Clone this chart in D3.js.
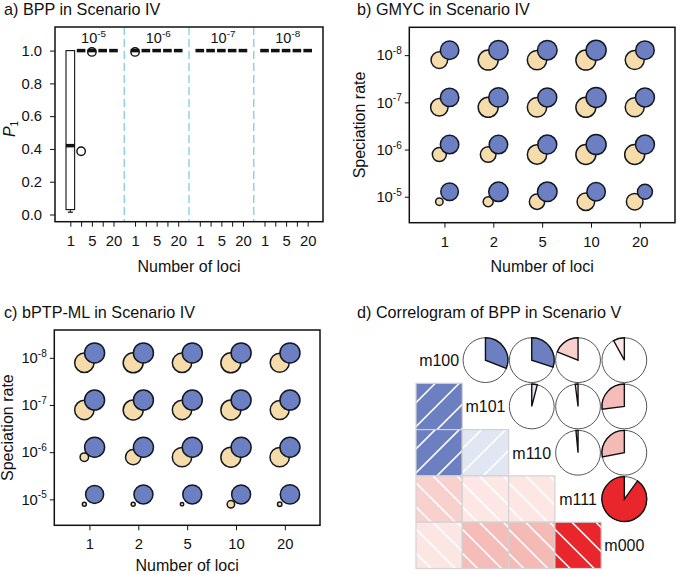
<!DOCTYPE html>
<html><head><meta charset="utf-8">
<script src="https://cdn.jsdelivr.net/npm/d3@7/dist/d3.min.js"></script>
<style>
body{margin:0;background:#fff}
text{font-family:"Liberation Sans",Arial,Helvetica,sans-serif;fill:#111}
</style>
</head><body>
<svg id="c" width="677" height="574"></svg>
<script>
// ---------------- DATA ----------------
const lociLabels = ["1", "2", "5", "10", "20"];
const groupExponents = ["-5", "-6", "-7", "-8"];          // panel a groups (left to right)
const rateExponents = ["-8", "-7", "-6", "-5"];           // panels b,c rows (top to bottom)
const yTicksA = [0, 0.2, 0.4, 0.6, 0.8, 1.0];

// Panel a: BPP boxplot statistics, 4 groups x 5 loci (20 boxes, in order)
const bppWhiskerLow  = [0.014,1,1,1,1, 1,1,1,1,1, 1,1,1,1,1, 1,1,1,1,1];
const bppQ1          = [0.03, 1,1,1,1, 1,1,1,1,1, 1,1,1,1,1, 1,1,1,1,1];
const bppMedian      = [0.42, 1,1,1,1, 1,1,1,1,1, 1,1,1,1,1, 1,1,1,1,1];
const bppQ3          = [1,    1,1,1,1, 1,1,1,1,1, 1,1,1,1,1, 1,1,1,1,1];
const bppWhiskerHigh = [1,    1,1,1,1, 1,1,1,1,1, 1,1,1,1,1, 1,1,1,1,1];
const bppOutlierBox  = [1, 2, 5];          // box index (0-based)
const bppOutlierVal  = [0.386, 0.992, 0.992];

// Panel b: GMYC (rows: 1e-8, 1e-7, 1e-6, 1e-5; cols: loci)
const gmycBeige = [
  [0.69, 1.00, 0.94, 1.00, 0.90],
  [0.76, 1.00, 0.94, 1.00, 0.90],
  [0.49, 0.61, 0.94, 1.00, 1.00],
  [0.14, 0.25, 0.59, 0.77, 0.69]];
const gmycBlue = [
  [0.85, 0.94, 0.96, 1.00, 0.86],
  [0.85, 0.94, 0.90, 1.00, 0.90],
  [0.85, 0.86, 0.90, 1.00, 0.90],
  [0.77, 0.94, 0.96, 0.85, 0.56]];

// Panel c: bPTP-ML
const bptpBeige = [
  [0.94, 1.00, 0.94, 1.00, 0.90],
  [0.94, 1.00, 0.94, 1.00, 0.90],
  [0.18, 0.59, 0.94, 1.00, 0.94],
  [0.04, 0.04, 0.03, 0.14, 0.05]];
const bptpBlue = [
  [1.00, 1.00, 1.00, 1.00, 1.00],
  [1.00, 1.00, 1.00, 1.00, 1.00],
  [1.00, 1.00, 1.00, 1.00, 1.00],
  [0.81, 0.90, 0.90, 0.90, 0.94]];

// Panel d: correlogram
const corrVars = ["m100", "m101", "m110", "m111", "m000"];
const corrMatrix = [
  [ 1.00,  0.31,  0.30,  -0.19, -0.08],
  [ 0.31,  1.00,  0.04,  -0.02, -0.27],
  [ 0.30,  0.04,  1.00,  -0.015,-0.28],
  [-0.19, -0.02, -0.015,  1.00, -0.90],
  [-0.08, -0.27, -0.28,  -0.90,  1.00]];

// ---------------- DRAW ----------------
const svg = d3.select("#c");
svg.append("rect").attr("width", 677).attr("height", 574).attr("fill", "#fff");
const TITLEF = 16.2, FONT = 16, TICKF = 14.8;
const BEIGE = "#f6dcaa", BLUE = "#6b7fc2", CSTROKE = "#141820";

function powerText(sel, exp, size) {
  sel.text(null);
  sel.append("tspan").text("10");
  sel.append("tspan").attr("font-size", size * 0.68).attr("dy", -size * 0.42).text(exp);
}
function title(x, y, t) {
  svg.append("text").attr("x", x).attr("y", y).attr("font-size", TITLEF).text(t);
}

// ===== Panel a =====
(function () {
  const L = 55, R = 323, T = 27, B = 221.7;
  const x = d3.scaleLinear().domain([-0.42, 24.42]).range([L, R]);
  const y = d3.scaleLinear().domain([-0.044, 1.144]).range([B, T]);
  const pos = d3.range(20).map(k => Math.floor(k / 5) * 6 + (k % 5) + 1);
  const g = svg.append("g");
  title(4, 15, "a) BPP in Scenario IV");

  [6, 12, 18].forEach(p => {
    g.append("line").attr("x1", x(p)).attr("x2", x(p)).attr("y1", T).attr("y2", B)
      .attr("stroke", "#8ccfe8").attr("stroke-width", 1.4).attr("stroke-dasharray", "8,4");
  });
  groupExponents.forEach((e, gi) => {
    g.append("text").attr("x", x(gi * 6 + 3.15)).attr("y", 43.3).attr("text-anchor", "middle")
      .attr("font-size", 14.5).call(s => powerText(s, e, 14.5));
  });
  const bw = x(0.8) - x(0);
  pos.forEach((p, k) => {
    const cx = x(p);
    if (bppWhiskerLow[k] < bppQ1[k]) {
      g.append("line").attr("x1", cx).attr("x2", cx).attr("y1", y(bppQ1[k])).attr("y2", y(bppWhiskerLow[k]))
        .attr("stroke", "#111").attr("stroke-width", 1);
      g.append("line").attr("x1", cx - bw * 0.3).attr("x2", cx + bw * 0.3)
        .attr("y1", y(bppWhiskerLow[k])).attr("y2", y(bppWhiskerLow[k])).attr("stroke", "#111").attr("stroke-width", 1.2);
    }
    if (bppWhiskerHigh[k] > bppQ3[k]) {
      g.append("line").attr("x1", cx).attr("x2", cx).attr("y1", y(bppQ3[k])).attr("y2", y(bppWhiskerHigh[k]))
        .attr("stroke", "#111").attr("stroke-width", 1);
    }
    if (bppQ3[k] > bppQ1[k]) {
      g.append("rect").attr("x", cx - bw / 2).attr("width", bw).attr("y", y(bppQ3[k]))
        .attr("height", y(bppQ1[k]) - y(bppQ3[k])).attr("fill", "#fff").attr("stroke", "#111").attr("stroke-width", 1.1);
    }
    g.append("line").attr("x1", cx - bw / 2).attr("x2", cx + bw / 2).attr("y1", y(bppMedian[k])).attr("y2", y(bppMedian[k]))
      .attr("stroke", "#111").attr("stroke-width", 3.5);
  });
  bppOutlierBox.forEach((k, i) => {
    g.append("circle").attr("cx", x(pos[k])).attr("cy", y(bppOutlierVal[i])).attr("r", 4.2)
      .attr("fill", "none").attr("stroke", "#111").attr("stroke-width", 1.4);
  });
  const ay = g.append("g").attr("transform", `translate(${L},0)`)
    .call(d3.axisLeft(y).tickValues(yTicksA).tickFormat(d3.format(".1f")).tickSize(5).tickPadding(8));
  const ax = g.append("g").attr("transform", `translate(0,${B})`)
    .call(d3.axisBottom(x).tickValues(pos).tickFormat((d, i) => (i % 5) % 2 === 0 ? lociLabels[i % 5] : "").tickSize(5).tickPadding(9));
  [ay, ax].forEach(a => {
    a.select(".domain").remove();
    a.selectAll(".tick line").attr("stroke", "#111");
    a.selectAll(".tick text").attr("font-size", TICKF).attr("font-family", null).attr("fill", "#111");
  });
  g.append("rect").attr("x", L).attr("y", T).attr("width", R - L).attr("height", B - T)
    .attr("fill", "none").attr("stroke", "#111").attr("stroke-width", 1.5);
  g.append("text").attr("x", (L + R) / 2).attr("y", 272).attr("text-anchor", "middle").attr("font-size", FONT).text("Number of loci");
  const pl = g.append("text").attr("transform", "translate(15,129) rotate(-90)").attr("text-anchor", "middle").attr("font-size", FONT);
  pl.append("tspan").attr("font-style", "italic").text("P");
  pl.append("tspan").attr("font-size", 10).attr("dy", 3).text("1");
})();

// ===== Panels b, c =====
function bubblePanel(L, R, T, B, beige, blue, xTitleY, yTitleX) {
  const x = d3.scaleLinear().domain([0.28, 5.72]).range([L, R]);
  const y = d3.scaleLinear().domain([0.45, 4.59]).range([B, T]);
  const r = d3.scaleSqrt().domain([0, 1]).range([0, 10]);
  const g = svg.append("g");
  const off = 0.105;
  const cellsBeige = [], cellsBlue = [];
  rateExponents.forEach((e, ri) => lociLabels.forEach((l, ci) => {
    cellsBeige.push({ c: ci + 1, row: 4 - ri, v: beige[ri][ci] });
    cellsBlue.push({ c: ci + 1, row: 4 - ri, v: blue[ri][ci] });
  }));
  g.selectAll(".beige").data(cellsBeige).enter().append("circle")
    .attr("cx", d => x(d.c - off)).attr("cy", d => y(d.row - off)).attr("r", d => r(d.v))
    .attr("fill", BEIGE).attr("stroke", CSTROKE).attr("stroke-width", 1.5);
  g.selectAll(".blue").data(cellsBlue).enter().append("circle")
    .attr("cx", d => x(d.c + off)).attr("cy", d => y(d.row + off)).attr("r", d => r(d.v))
    .attr("fill", BLUE).attr("stroke", CSTROKE).attr("stroke-width", 1.5);

  const ax = g.append("g").attr("transform", `translate(0,${B})`)
    .call(d3.axisBottom(x).tickValues([1, 2, 3, 4, 5]).tickFormat((d, i) => lociLabels[i]).tickSize(5).tickPadding(8.5));
  const ay = g.append("g").attr("transform", `translate(${L},0)`)
    .call(d3.axisLeft(y).tickValues([4, 3, 2, 1]).tickSize(4.5).tickPadding(3));
  ay.selectAll(".tick text").each(function (d) { powerText(d3.select(this), rateExponents[4 - d], TICKF); });
  [ay, ax].forEach(a => {
    a.select(".domain").remove();
    a.selectAll(".tick line").attr("stroke", "#111");
    a.selectAll(".tick text").attr("font-size", TICKF).attr("font-family", null).attr("fill", "#111");
  });
  g.append("rect").attr("x", L).attr("y", T).attr("width", R - L).attr("height", B - T)
    .attr("fill", "none").attr("stroke", "#111").attr("stroke-width", 1.5);
  g.append("text").attr("x", (L + R) / 2).attr("y", xTitleY).attr("text-anchor", "middle").attr("font-size", FONT).text("Number of loci");
  g.append("text").attr("transform", `translate(${yTitleX},${(T + B) / 2}) rotate(-90)`).attr("text-anchor", "middle")
    .attr("font-size", FONT).text("Speciation rate");
}
title(357, 15, "b) GMYC in Scenario IV");
bubblePanel(409.3, 675, 27.3, 222.7, gmycBeige, gmycBlue, 271.7, 365);
title(4, 318, "c) bPTP-ML in Scenario IV");
bubblePanel(54.3, 320, 330, 525.3, bptpBeige, bptpBlue, 571, 13);

// ===== Panel d =====
(function () {
  title(357, 318, "d) Correlogram of BPP in Scenario V");
  const cell = 46.3;
  const xb = d3.scaleBand().domain(corrVars).range([416, 416 + cell * 5]);
  const yb = d3.scaleBand().domain(corrVars).range([337, 337 + cell * 5]);
  const blueScale = d3.scaleLinear().domain([0, 0.05, 0.3]).range(["#eef1f8", "#dde3f1", "#6b7fc1"]).clamp(true);
  const redScale = d3.scaleLinear().domain([0, -0.01, -0.1, -0.25, -0.9])
    .range(["#ffffff", "#fce7e5", "#fce6e4", "#f5c1bd", "#e8262b"]).clamp(true);
  const col = v => v >= 0 ? blueScale(v) : redScale(v);
  const g = svg.append("g");
  const defs = svg.append("defs");
  const arc = d3.arc().innerRadius(0);
  const pieR = 22.4;
  corrVars.forEach((rv, i) => corrVars.forEach((cv, j) => {
    const v = corrMatrix[i][j];
    const x0 = xb(cv), y0 = yb(rv);
    const cx = x0 + cell / 2, cy = y0 + cell / 2;
    if (i === j) {
      g.append("text").attr("x", cx).attr("y", cy + 5.8).attr("text-anchor", "middle").attr("font-size", FONT).text(rv);
    } else if (i > j) {
      const id = `clip${i}${j}`;
      defs.append("clipPath").attr("id", id).append("rect").attr("x", x0).attr("y", y0).attr("width", cell).attr("height", cell);
      g.append("rect").attr("x", x0).attr("y", y0).attr("width", cell).attr("height", cell).attr("fill", col(v));
      const hg = g.append("g").attr("clip-path", `url(#${id})`);
      const sp = 24;
      d3.range(-3, 4).forEach(k => {
        const o = k * sp + (v >= 0 ? -3 : 7);
        if (v >= 0) {
          hg.append("line").attr("x1", x0 + o).attr("y1", y0 + cell).attr("x2", x0 + o + cell).attr("y2", y0)
            .attr("stroke", "#fff").attr("stroke-width", 1.6);
        } else {
          hg.append("line").attr("x1", x0 - o).attr("y1", y0).attr("x2", x0 - o + cell).attr("y2", y0 + cell)
            .attr("stroke", "#fff").attr("stroke-width", 1.6);
        }
      });
      g.append("rect").attr("x", x0).attr("y", y0).attr("width", cell).attr("height", cell)
        .attr("fill", "none").attr("stroke", "#d2d2d2").attr("stroke-width", 1.2);
    } else {
      g.append("circle").attr("cx", cx).attr("cy", cy).attr("r", pieR).attr("fill", "#fff")
        .attr("stroke", "#555").attr("stroke-width", 1);
      const a = 2 * Math.PI * Math.abs(v);
      const path = v >= 0 ? arc({ outerRadius: pieR, startAngle: 0, endAngle: a })
                          : arc({ outerRadius: pieR, startAngle: -a, endAngle: 0 });
      g.append("path").attr("transform", `translate(${cx},${cy})`).attr("d", path)
        .attr("fill", col(v)).attr("stroke", "#111").attr("stroke-width", 1.4).attr("stroke-linejoin", "miter");
    }
  }));
})();
</script>
</body></html>
